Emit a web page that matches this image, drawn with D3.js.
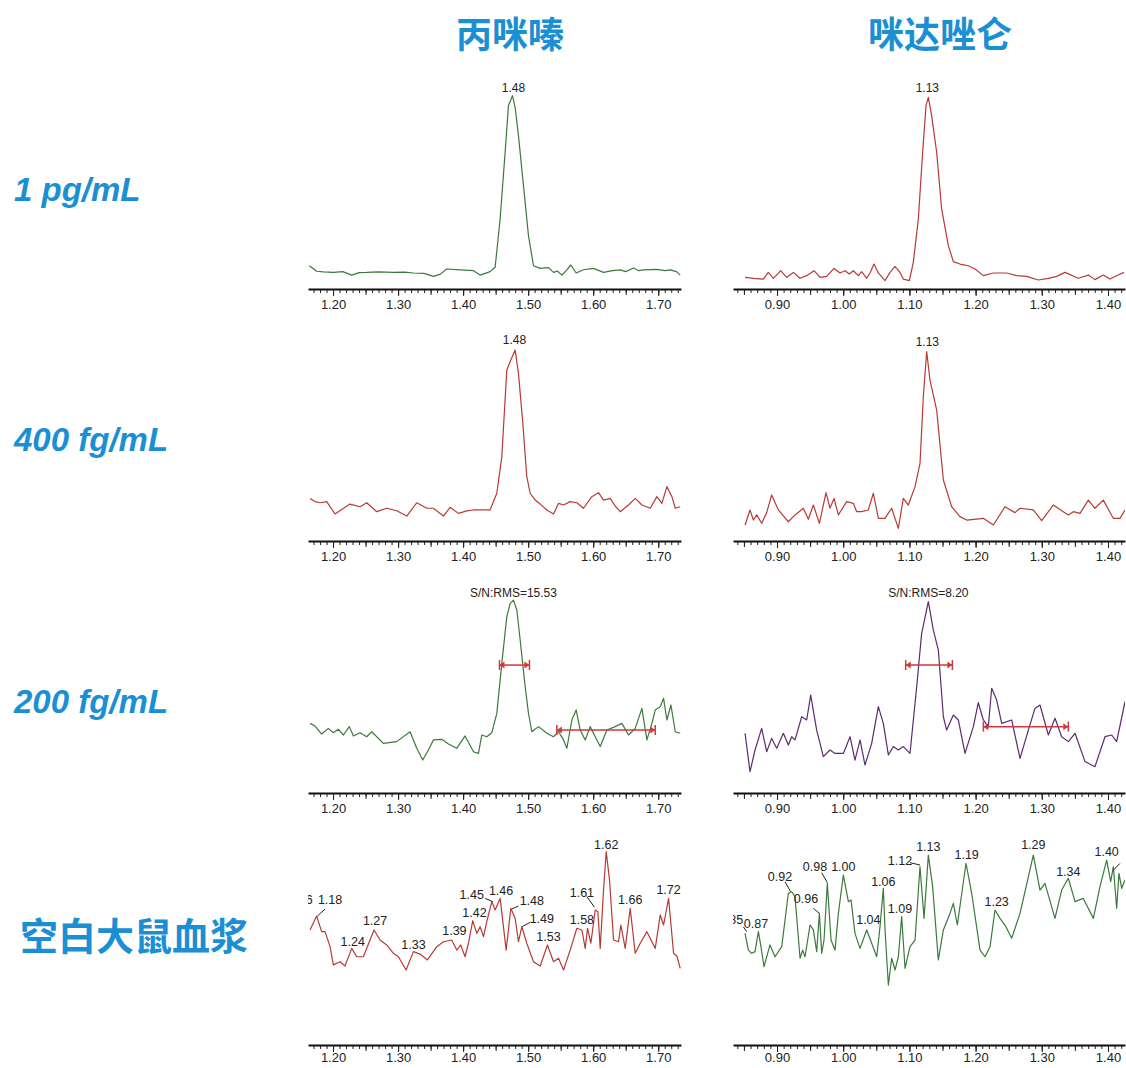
<!DOCTYPE html>
<html>
<head>
<meta charset="utf-8">
<script src="https://cdn.jsdelivr.net/npm/d3@7/dist/d3.min.js"></script>
<style>
  body { margin: 0; background: #fff; }
  .tick text { font-family: "Liberation Sans", Arial, sans-serif; font-size: 13px; fill: #222; }
</style>
</head>
<body>
<div class="canvas"></div>
<script>
// column / row headings
var compounds = ['丙咪嗪', '咪达唑仑'];
var rowLabels = ['1 pg/mL', '400 fg/mL', '200 fg/mL', '空白大鼠血浆'];

// tick labels for each column
var leftTicks = [1.20, 1.30, 1.40, 1.50, 1.60, 1.70];
var rightTicks = [0.90, 1.00, 1.10, 1.20, 1.30, 1.40];

// traces: [retention time (min), relative intensity %]
var imi1pg = [[1.1636,9.6],[1.1748,6.7],[1.1850,6.4],[1.2005,6.1],[1.2150,6.5],[1.2287,4.7],[1.2400,6.0],[1.2518,6.1],[1.2700,6.4],[1.2928,6.1],[1.3100,6.3],[1.3236,5.8],[1.3400,5.6],[1.3543,4.0],[1.3650,5.2],[1.3748,7.9],[1.3954,7.4],[1.4159,7.0],[1.4261,4.7],[1.4415,6.5],[1.4492,8.8],[1.4569,34.2],[1.4646,69.3],[1.4697,93.9],[1.4759,99.1],[1.4800,93.0],[1.4851,78.1],[1.4928,51.8],[1.5005,25.4],[1.5082,9.6],[1.5184,8.2],[1.5313,8.6],[1.5390,6.1],[1.5450,6.8],[1.5518,4.7],[1.5595,7.4],[1.5656,10.0],[1.5738,5.8],[1.5851,7.5],[1.6005,8.2],[1.6159,6.1],[1.6300,7.0],[1.6415,7.4],[1.6500,6.5],[1.6621,8.4],[1.6700,7.0],[1.6774,7.4],[1.6979,7.7],[1.7100,7.0],[1.7185,7.4],[1.7280,6.5],[1.7338,4.7]];
var mid1pg = [[0.8517,3.5],[0.8643,3.0],[0.8794,2.6],[0.8869,6.1],[0.8945,3.0],[0.9055,7.0],[0.9146,3.5],[0.9247,6.1],[0.9347,3.0],[0.9448,4.4],[0.9559,7.0],[0.9650,3.5],[0.9750,4.0],[0.9861,8.2],[0.9952,5.8],[1.0027,7.0],[1.0093,5.3],[1.0153,7.0],[1.0229,4.4],[1.0279,6.5],[1.0355,3.0],[1.0405,5.8],[1.0465,10.5],[1.0531,5.8],[1.0631,1.8],[1.0707,6.1],[1.0782,9.3],[1.0858,6.1],[1.0908,2.6],[1.0999,1.8],[1.1059,11.4],[1.1135,34.2],[1.1200,69.3],[1.1251,93.9],[1.1286,98.2],[1.1336,88.6],[1.1412,69.3],[1.1487,39.5],[1.1588,20.2],[1.1664,11.8],[1.1764,10.5],[1.1890,9.6],[1.1991,7.9],[1.2117,4.4],[1.2268,5.8],[1.2469,5.8],[1.2620,4.4],[1.2771,4.0],[1.2948,2.1],[1.3099,3.0],[1.3225,4.0],[1.3350,6.1],[1.3551,3.0],[1.3703,4.7],[1.3803,2.3],[1.3929,4.7],[1.4030,2.6],[1.4155,4.7],[1.4241,6.1]];
var imi400fg = [[1.1646,19.8],[1.1723,18.1],[1.1800,17.5],[1.1902,18.1],[1.2030,11.6],[1.2133,14.0],[1.2261,16.8],[1.2415,15.4],[1.2518,17.5],[1.2672,12.8],[1.2826,14.6],[1.2979,13.3],[1.3133,10.5],[1.3287,17.5],[1.3441,14.6],[1.3543,14.6],[1.3697,10.5],[1.3800,15.1],[1.3928,11.9],[1.4056,13.2],[1.4159,13.7],[1.4415,13.7],[1.4518,22.5],[1.4595,41.8],[1.4672,87.4],[1.4733,92.6],[1.4800,97.9],[1.4851,85.6],[1.4918,59.3],[1.4979,31.2],[1.5031,22.5],[1.5108,18.9],[1.5185,16.8],[1.5287,13.7],[1.5390,11.6],[1.5467,17.2],[1.5544,16.3],[1.5646,18.1],[1.5749,17.5],[1.5851,14.6],[1.5979,20.7],[1.6082,22.8],[1.6159,18.9],[1.6262,19.8],[1.6338,15.8],[1.6415,12.8],[1.6544,16.3],[1.6646,19.8],[1.6749,16.3],[1.6877,14.6],[1.6979,20.7],[1.7056,17.2],[1.7133,26.0],[1.7210,20.7],[1.7262,14.6],[1.7338,15.4]];
var mid400fg = [[0.8517,5.8],[0.8592,13.7],[0.8643,8.4],[0.8693,11.1],[0.8768,6.7],[0.8844,12.3],[0.8919,21.6],[0.9020,13.7],[0.9171,7.5],[0.9272,11.1],[0.9398,14.6],[0.9473,8.8],[0.9549,16.3],[0.9640,6.7],[0.9740,22.8],[0.9800,14.6],[0.9861,19.8],[0.9927,11.1],[1.0052,18.1],[1.0153,17.2],[1.0203,12.8],[1.0279,12.8],[1.0379,13.7],[1.0455,22.5],[1.0531,9.3],[1.0631,9.3],[1.0732,14.6],[1.0833,4.0],[1.0908,19.8],[1.0984,16.3],[1.1085,26.0],[1.1160,38.2],[1.1210,73.3],[1.1261,97.0],[1.1311,82.1],[1.1412,66.3],[1.1513,29.5],[1.1639,15.4],[1.1764,10.2],[1.1865,8.4],[1.2117,9.3],[1.2268,5.8],[1.2444,15.4],[1.2595,12.3],[1.2671,14.6],[1.2872,13.7],[1.2998,8.1],[1.3174,16.3],[1.3325,12.8],[1.3401,11.1],[1.3477,12.8],[1.3577,11.9],[1.3703,18.9],[1.3803,14.6],[1.3929,18.9],[1.4080,9.3],[1.4181,9.3],[1.4257,13.7]];
var imi200fg = [[1.1646,34.0],[1.1723,32.6],[1.1825,28.4],[1.1928,31.4],[1.2005,29.1],[1.2082,30.9],[1.2159,27.9],[1.2251,32.3],[1.2313,27.4],[1.2415,29.1],[1.2518,27.0],[1.2595,29.6],[1.2774,23.5],[1.2979,24.4],[1.3184,29.6],[1.3287,20.9],[1.3379,14.7],[1.3466,20.0],[1.3543,25.3],[1.3672,25.6],[1.3774,23.2],[1.3902,20.9],[1.4030,27.4],[1.4159,19.1],[1.4236,18.2],[1.4287,27.9],[1.4364,27.0],[1.4441,29.1],[1.4518,39.3],[1.4595,65.6],[1.4672,90.2],[1.4723,97.2],[1.4774,98.9],[1.4826,93.7],[1.4877,77.9],[1.4954,53.3],[1.5005,39.3],[1.5056,29.6],[1.5159,32.3],[1.5287,28.8],[1.5390,27.0],[1.5467,29.6],[1.5544,25.3],[1.5595,20.9],[1.5672,35.8],[1.5738,41.1],[1.5800,30.5],[1.5877,25.3],[1.5954,32.3],[1.6031,27.0],[1.6108,21.8],[1.6210,30.5],[1.6338,32.3],[1.6441,34.0],[1.6544,27.9],[1.6646,31.4],[1.6749,41.9],[1.6826,25.3],[1.6903,34.0],[1.6954,41.1],[1.7031,42.8],[1.7082,47.2],[1.7133,35.8],[1.7195,43.7],[1.7262,29.6],[1.7338,28.8]];
var mid200fg = [[0.8517,28.8],[0.8592,8.6],[0.8668,20.0],[0.8768,31.4],[0.8844,19.1],[0.8919,26.1],[0.8995,20.9],[0.9096,28.8],[0.9171,22.6],[0.9222,27.0],[0.9272,25.3],[0.9373,37.5],[0.9448,35.8],[0.9509,48.9],[0.9599,30.5],[0.9700,16.5],[0.9800,20.0],[0.9876,18.2],[1.0002,18.2],[1.0103,27.0],[1.0178,14.7],[1.0254,25.3],[1.0329,12.1],[1.0430,23.5],[1.0531,42.8],[1.0606,34.0],[1.0682,17.4],[1.0757,21.8],[1.0833,20.0],[1.0908,21.8],[1.1009,18.2],[1.1110,53.3],[1.1185,81.4],[1.1286,98.1],[1.1361,83.2],[1.1437,72.6],[1.1513,37.5],[1.1563,30.5],[1.1664,38.4],[1.1739,35.8],[1.1840,18.2],[1.1966,32.3],[1.2041,44.9],[1.2117,35.8],[1.2192,32.3],[1.2243,52.5],[1.2318,46.3],[1.2394,34.0],[1.2545,35.8],[1.2671,15.6],[1.2797,30.5],[1.2897,41.9],[1.2973,43.7],[1.3099,27.9],[1.3200,36.7],[1.3300,27.0],[1.3401,24.4],[1.3502,28.8],[1.3653,13.9],[1.3803,11.2],[1.3955,27.0],[1.4056,27.9],[1.4131,24.4],[1.4257,45.4]];
var imiBlank = [[1.1646,59.5],[1.1748,66.8],[1.1825,58.6],[1.1877,58.6],[1.1954,50.7],[1.2005,41.1],[1.2108,42.8],[1.2184,40.5],[1.2287,49.8],[1.2364,45.4],[1.2466,45.4],[1.2630,59.5],[1.2723,54.2],[1.2825,51.6],[1.2928,47.2],[1.3005,45.4],[1.3123,38.4],[1.3236,48.1],[1.3338,46.8],[1.3451,43.7],[1.3595,50.7],[1.3697,53.3],[1.3825,54.2],[1.3902,48.9],[1.3964,51.6],[1.4030,45.4],[1.4082,52.5],[1.4148,64.4],[1.4210,57.7],[1.4261,61.2],[1.4313,56.0],[1.4364,63.9],[1.4441,74.4],[1.4492,70.0],[1.4569,76.1],[1.4662,48.9],[1.4733,70.9],[1.4800,65.6],[1.4851,53.3],[1.4903,61.2],[1.4979,52.5],[1.5082,42.8],[1.5185,40.5],[1.5297,51.6],[1.5390,42.8],[1.5467,44.6],[1.5544,38.4],[1.5646,48.9],[1.5749,60.4],[1.5826,59.5],[1.5877,49.8],[1.5913,60.4],[1.5964,52.5],[1.6031,70.0],[1.6072,69.1],[1.6108,49.8],[1.6159,80.5],[1.6200,100.7],[1.6251,85.8],[1.6313,54.2],[1.6390,53.3],[1.6425,62.1],[1.6492,49.8],[1.6569,70.9],[1.6646,47.2],[1.6723,52.5],[1.6826,58.6],[1.6954,49.8],[1.7031,67.4],[1.7082,62.1],[1.7159,76.1],[1.7236,47.2],[1.7287,45.8],[1.7338,39.3]];
var midBlank = [[0.8517,57.7],[0.8567,48.9],[0.8617,47.2],[0.8668,48.1],[0.8718,58.6],[0.8753,51.6],[0.8804,40.2],[0.8894,51.6],[0.8970,45.4],[0.9071,50.7],[0.9171,78.8],[0.9222,79.6],[0.9272,77.0],[0.9348,44.6],[0.9388,48.9],[0.9423,45.4],[0.9499,62.1],[0.9549,59.5],[0.9599,48.1],[0.9640,68.2],[0.9675,47.2],[0.9710,54.2],[0.9760,84.0],[0.9816,54.2],[0.9876,48.9],[0.9927,68.2],[1.0002,88.4],[1.0078,74.4],[1.0118,75.3],[1.0178,57.7],[1.0254,49.8],[1.0355,59.5],[1.0430,52.5],[1.0506,45.4],[1.0556,61.2],[1.0606,81.4],[1.0632,59.5],[1.0682,30.5],[1.0732,44.6],[1.0783,38.4],[1.0833,45.4],[1.0883,66.5],[1.0934,39.3],[1.1009,50.7],[1.1085,54.2],[1.1160,92.8],[1.1221,65.6],[1.1286,98.9],[1.1351,82.3],[1.1437,43.7],[1.1513,59.5],[1.1613,68.2],[1.1664,73.5],[1.1724,62.1],[1.1855,94.6],[1.1941,78.8],[1.2067,48.9],[1.2142,45.4],[1.2218,50.7],[1.2293,70.0],[1.2369,65.6],[1.2459,61.2],[1.2545,55.1],[1.2671,68.2],[1.2872,98.9],[1.2973,80.5],[1.3048,84.0],[1.3199,65.6],[1.3300,80.5],[1.3401,86.7],[1.3502,74.4],[1.3627,76.1],[1.3779,65.6],[1.3879,82.3],[1.3980,96.3],[1.4041,84.9],[1.4081,92.8],[1.4131,70.9],[1.4166,89.3],[1.4207,81.4],[1.4257,85.8]];

// peak labels: [text, rt, intensity] (text centre)
var imi1pgLabels = [['1.48', 1.4774, 103.5]];
var mid1pgLabels = [['1.13', 1.1271, 103.5]];
var imi400Labels = [['1.48', 1.4789, 103.2]];
var mid400Labels = [['1.13', 1.1271, 102.3]];
var imi200Labels = [['S/N:RMS=15.53', 1.4774, 102.8]];
var mid200Labels = [['S/N:RMS=8.20', 1.1286, 102.5]];
var imiBlankLabels = [['1.16',1.1502,75.3],['1.18',1.1954,75.3],['1.24',1.2302,53.3],['1.27',1.2646,64.2],['1.33',1.3236,51.9],['1.39',1.3866,58.9],['1.42',1.4174,68.6],['1.45',1.4133,77.9],['1.46',1.4584,80.0],['1.48',1.5056,74.7],['1.49',1.5210,65.6],['1.53',1.5313,56.0],['1.58',1.5826,65.1],['1.61',1.5826,79.1],['1.62',1.6200,104.2],['1.66',1.6569,75.6],['1.72',1.7159,80.9]];
var midBlankLabels = [['0.85',0.8305,64.7],['0.87',0.8683,63.0],['0.92',0.9045,87.5],['0.96',0.9438,76.1],['0.98',0.9574,92.8],['1.00',1.0002,92.8],['1.04',1.0380,64.7],['1.06',1.0606,84.9],['1.09',1.0858,70.9],['1.12',1.0858,96.0],['1.13',1.1286,103.3],['1.19',1.1865,98.9],['1.23',1.2318,74.4],['1.29',1.2872,104.2],['1.34',1.3401,90.2],['1.40',1.3980,100.7]];

// leader lines from label to peak: [rt1, v1, rt2, v2]
var imiBlankLeaders = [[1.1877,70.5,1.1759,66.8],[1.4338,76.1,1.4456,74.4],[1.4851,72.1,1.4748,70.5],[1.5031,63.5,1.4903,61.2],[1.5903,77.0,1.6021,71.4]];
var midBlankLeaders = [[0.8491,61.2,0.8542,58.6],[0.9121,84.9,0.9206,79.6],[0.9549,70.9,0.9640,68.2],[0.9675,89.6,0.9760,84.4],[1.1009,94.9,1.1160,93.7],[1.4081,91.0,1.4180,94.5]];

// S/N bars: [rtStart, rtEnd, intensity]
var imi200Bars = [[1.4559, 1.5020, 64.7], [1.5441, 1.6954, 30.5]];
var mid200Bars = [[1.0944, 1.1649, 64.7], [1.2117, 1.3401, 32.3]];

var width = 1126;
var height = 1068;
var blue = '#1b8fd3';
var green = '#3b7a3b';
var red = '#b83a34';
var purple = '#5e2a6e';
var axisYs = [289, 541, 793, 1045];

var svg = d3.select('.canvas')
  .append('svg')
  .attr('width', width)
  .attr('height', height)
  .style('display', 'block');

var xLeft = d3.scaleLinear().domain([1.1615, 1.735]).range([308, 681]);
var xRight = d3.scaleLinear().domain([0.8335, 1.4257]).range([733, 1125]);

var panels = [
  { row: 0, x: xLeft, ticks: leftTicks, data: imi1pg, color: green, labels: imi1pgLabels },
  { row: 0, x: xRight, ticks: rightTicks, data: mid1pg, color: red, labels: mid1pgLabels },
  { row: 1, x: xLeft, ticks: leftTicks, data: imi400fg, color: red, labels: imi400Labels },
  { row: 1, x: xRight, ticks: rightTicks, data: mid400fg, color: red, labels: mid400Labels },
  { row: 2, x: xLeft, ticks: leftTicks, data: imi200fg, color: green, labels: imi200Labels, bars: imi200Bars },
  { row: 2, x: xRight, ticks: rightTicks, data: mid200fg, color: purple, labels: mid200Labels, bars: mid200Bars },
  { row: 3, x: xLeft, ticks: leftTicks, data: imiBlank, color: red, labels: imiBlankLabels, leaders: imiBlankLeaders },
  { row: 3, x: xRight, ticks: rightTicks, data: midBlank, color: green, labels: midBlankLabels, leaders: midBlankLeaders }
];

// headings
svg.selectAll('text.compound')
  .data(compounds)
  .enter()
  .append('text')
  .attr('class', 'compound')
  .attr('x', function(d, i) { return i == 0 ? 510 : 940; })
  .attr('y', 48)
  .attr('text-anchor', 'middle')
  .attr('font-family', '"Noto Sans CJK SC", sans-serif')
  .attr('font-weight', 'bold')
  .attr('font-size', 36)
  .attr('fill', blue)
  .text(function(d) { return d; });

svg.selectAll('text.rowlabel')
  .data(rowLabels)
  .enter()
  .append('text')
  .attr('class', 'rowlabel')
  .attr('x', function(d, i) { return i == 3 ? 20 : 14; })
  .attr('y', function(d, i) { return [201, 451, 713, 950][i]; })
  .attr('font-family', function(d, i) { return i == 3 ? '"Noto Sans CJK SC", sans-serif' : '"Liberation Sans", Arial, sans-serif'; })
  .attr('font-style', function(d, i) { return i == 3 ? 'normal' : 'italic'; })
  .attr('font-weight', 'bold')
  .attr('font-size', function(d, i) { return i == 3 ? 38 : 33; })
  .attr('fill', blue)
  .text(function(d) { return d; });

panels.forEach(function(p, i) {
  var x = p.x;
  var axisY = axisYs[p.row];
  var top = p.row == 3 ? axisY - 192 : axisY - 195;
  var y = d3.scaleLinear().domain([0, 100]).range([p.row == 3 ? axisY - 2 : axisY - 5, top]);
  var g = svg.append('g');
  var clipId = 'clip' + i;

  g.append('clipPath')
    .attr('id', clipId)
    .append('rect')
    .attr('x', x.range()[0])
    .attr('y', axisY - 260)
    .attr('width', x.range()[1] - x.range()[0])
    .attr('height', 260);

  var plot = g.append('g').attr('clip-path', 'url(#' + clipId + ')');

  var line = d3.line()
    .x(function(d) { return x(d[0]); })
    .y(function(d) { return y(d[1]); });

  plot.append('path')
    .datum(p.data)
    .attr('fill', 'none')
    .attr('stroke', p.color)
    .attr('stroke-width', 1.2)
    .attr('stroke-linejoin', 'round')
    .attr('d', line);

  if (p.bars) {
    p.bars.forEach(function(b) {
      var bg = plot.append('g').attr('stroke', '#d2373a').attr('stroke-width', 1.5);
      bg.append('line').attr('x1', x(b[0])).attr('x2', x(b[1])).attr('y1', y(b[2])).attr('y2', y(b[2]));
      [b[0], b[1]].forEach(function(v, k) {
        bg.append('line').attr('x1', x(v)).attr('x2', x(v)).attr('y1', y(b[2]) - 5).attr('y2', y(b[2]) + 5);
        var dir = k == 0 ? 1 : -1;
        bg.append('path')
          .attr('fill', '#d2373a')
          .attr('stroke', 'none')
          .attr('d', 'M' + x(v) + ',' + y(b[2]) + 'l' + (5 * dir) + ',-3.5v7z');
      });
    });
  }

  if (p.leaders) {
    plot.selectAll('line.leader')
      .data(p.leaders)
      .enter()
      .append('line')
      .attr('class', 'leader')
      .attr('x1', function(d) { return x(d[0]); })
      .attr('y1', function(d) { return y(d[1]); })
      .attr('x2', function(d) { return x(d[2]); })
      .attr('y2', function(d) { return y(d[3]); })
      .attr('stroke', '#222')
      .attr('stroke-width', 1);
  }

  plot.selectAll('text.peak')
    .data(p.labels)
    .enter()
    .append('text')
    .attr('class', 'peak')
    .attr('x', function(d) { return x(d[1]); })
    .attr('y', function(d) { return y(d[2]); })
    .attr('dy', '0.35em')
    .attr('text-anchor', 'middle')
    .attr('font-family', '"Liberation Sans", Arial, sans-serif')
    .attr('font-size', p.row == 3 ? 12.5 : 12)
    .attr('fill', '#222')
    .text(function(d) { return d[0]; });

  // axis: minor ticks every 0.01, mid every 0.05, major labelled every 0.1
  var d0 = x.domain()[0], d1 = x.domain()[1];
  var minor = d3.range(Math.ceil(d0 * 100), Math.floor(d1 * 100) + 1).map(function(v) { return v / 100; });
  var mids = minor.filter(function(v) { return Math.round(v * 100) % 5 == 0; });
  var pad = p.row == 3 ? 1 : 4;

  g.append('g')
    .attr('transform', 'translate(0,' + axisY + ')')
    .call(d3.axisBottom(x).tickValues(minor).tickSize(4).tickSizeOuter(0).tickFormat(''))
    .call(function(a) { a.select('.domain').remove(); });
  g.append('g')
    .attr('transform', 'translate(0,' + axisY + ')')
    .call(d3.axisBottom(x).tickValues(mids).tickSize(6).tickSizeOuter(0).tickFormat(''))
    .call(function(a) { a.select('.domain').remove(); });
  var ax = g.append('g')
    .attr('transform', 'translate(0,' + axisY + ')')
    .call(d3.axisBottom(x).tickValues(p.ticks).tickSize(7).tickSizeOuter(0).tickPadding(pad).tickFormat(d3.format('.2f')));
  ax.select('.domain').attr('stroke-width', 2).attr('stroke', '#111');
  g.selectAll('.tick line').attr('stroke', '#222');
});
</script>
</body>
</html>
